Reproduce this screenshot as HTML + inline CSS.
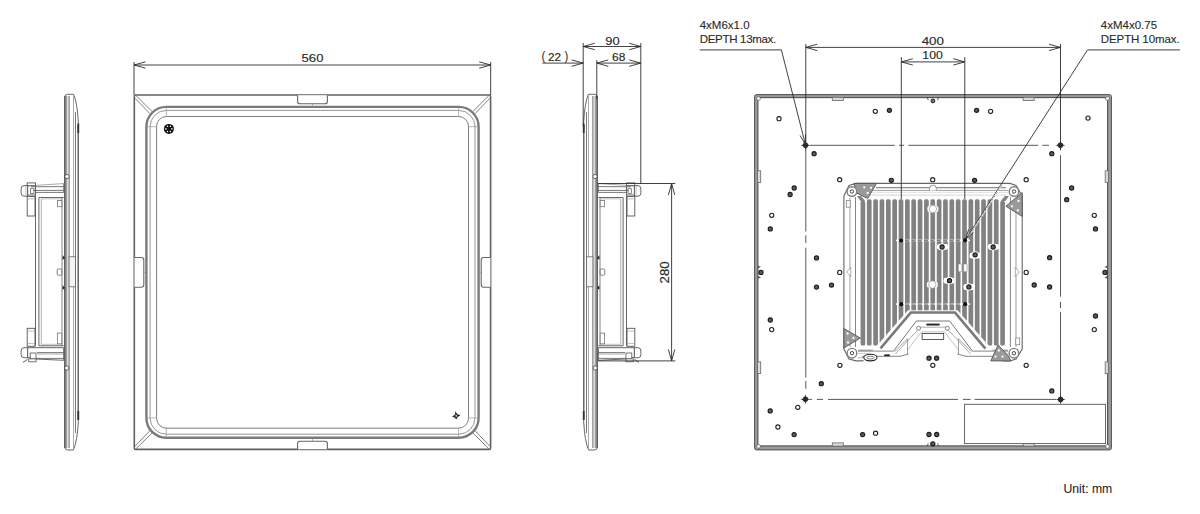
<!DOCTYPE html>
<html><head><meta charset="utf-8"><style>
html,body{margin:0;padding:0;background:#fff;}
body{width:1200px;height:514px;overflow:hidden;}
svg{display:block;font-family:"Liberation Sans",sans-serif;}
</style></head><body>
<svg width="1200" height="514" viewBox="0 0 1200 514">
<rect x="134.3" y="95.0" width="356.30" height="354.40" rx="1.5" fill="none" stroke="#606060" stroke-width="1.6"/>
<rect x="146.40" y="106.90" width="332.20" height="330.90" rx="19.9" ry="19.9" fill="none" stroke="#7a7a7a" stroke-width="2.4"/>
<rect x="150.10" y="110.40" width="324.90" height="323.80" rx="16.3" ry="16.3" fill="none" stroke="#8a8a8a" stroke-width="0.9"/>
<rect x="156.60" y="116.50" width="311.90" height="311.70" rx="9.9" ry="9.9" fill="none" stroke="#707070" stroke-width="0.9"/>
<line x1="166.30" y1="106.00" x2="166.30" y2="117.00" stroke="#888" stroke-width="0.6" />
<line x1="458.60" y1="106.00" x2="458.60" y2="117.00" stroke="#888" stroke-width="0.6" />
<line x1="166.30" y1="427.50" x2="166.30" y2="438.50" stroke="#888" stroke-width="0.6" />
<line x1="458.60" y1="427.50" x2="458.60" y2="438.50" stroke="#888" stroke-width="0.6" />
<line x1="146.00" y1="126.70" x2="157.00" y2="126.70" stroke="#888" stroke-width="0.6" />
<line x1="146.00" y1="417.90" x2="157.00" y2="417.90" stroke="#888" stroke-width="0.6" />
<line x1="468.00" y1="126.70" x2="479.00" y2="126.70" stroke="#888" stroke-width="0.6" />
<line x1="468.00" y1="417.90" x2="479.00" y2="417.90" stroke="#888" stroke-width="0.6" />
<line x1="136.10" y1="95.70" x2="152.60" y2="112.00" stroke="#6a6a6a" stroke-width="0.85" />
<line x1="135.00" y1="98.20" x2="149.90" y2="113.60" stroke="#6a6a6a" stroke-width="0.85" />
<line x1="488.80" y1="95.70" x2="472.30" y2="112.00" stroke="#6a6a6a" stroke-width="0.85" />
<line x1="489.90" y1="98.20" x2="475.00" y2="113.60" stroke="#6a6a6a" stroke-width="0.85" />
<line x1="136.10" y1="448.70" x2="152.60" y2="432.40" stroke="#6a6a6a" stroke-width="0.85" />
<line x1="135.00" y1="446.20" x2="149.90" y2="430.80" stroke="#6a6a6a" stroke-width="0.85" />
<line x1="488.80" y1="448.70" x2="472.30" y2="432.40" stroke="#6a6a6a" stroke-width="0.85" />
<line x1="489.90" y1="446.20" x2="475.00" y2="430.80" stroke="#6a6a6a" stroke-width="0.85" />
<path d="M297.6,95.2 V101.5 Q297.6,103.8 300,103.8 H325 Q327.4,103.8 327.4,101.5 V95.2" fill="#fff" stroke="#666" stroke-width="1.1"/>
<path d="M297.6,449.2 V443.6 Q297.6,441.3 300,441.3 H325 Q327.4,441.3 327.4,443.6 V449.2" fill="#fff" stroke="#666" stroke-width="1.1"/>
<path d="M134.5,257.5 H141.4 Q143.8,257.5 143.8,259.9 V284.8 Q143.8,287.2 141.4,287.2 H134.5" fill="#fff" stroke="#666" stroke-width="1.1"/>
<path d="M490.4,257.5 H483.5 Q481.2,257.5 481.2,259.9 V284.8 Q481.2,287.2 483.5,287.2 H490.4" fill="#fff" stroke="#666" stroke-width="1.1"/>
<line x1="312.50" y1="103.80" x2="312.50" y2="107.00" stroke="#888" stroke-width="0.6" />
<line x1="312.50" y1="438.00" x2="312.50" y2="441.30" stroke="#888" stroke-width="0.6" />
<line x1="143.80" y1="272.30" x2="146.50" y2="272.30" stroke="#888" stroke-width="0.6" />
<line x1="478.50" y1="272.30" x2="481.20" y2="272.30" stroke="#888" stroke-width="0.6" />
<circle cx="168.9" cy="128.9" r="5.0" fill="#111"/>
<circle cx="171.90" cy="128.90" r="0.8" fill="#fff"/>
<circle cx="170.40" cy="131.50" r="0.8" fill="#fff"/>
<circle cx="167.40" cy="131.50" r="0.8" fill="#fff"/>
<circle cx="165.90" cy="128.90" r="0.8" fill="#fff"/>
<circle cx="167.40" cy="126.30" r="0.8" fill="#fff"/>
<circle cx="170.40" cy="126.30" r="0.8" fill="#fff"/>
<polygon points="455.4,411.6 457.3,414.6 460.2,415.2 457.2,417.1 456.4,419.2 454.6,417.2 452.4,416.5 455.2,414.8" fill="#222" stroke="#222" stroke-width="0.4"/>
<circle cx="456.2" cy="415.9" r="0.8" fill="#fff"/>
<g><path d="M64.8,97 Q64.8,94.3 67.5,94.3 L73.6,94.3 Q77.3,103 78.3,122 L78.3,422 Q77.3,441 73.4,450 L67.5,450 Q64.8,450 64.8,447 Z" fill="#fff" stroke="#666" stroke-width="1.0"/><rect x="64.8" y="96" width="2.6" height="352" fill="#a0a0a0"/><line x1="64.80" y1="96.00" x2="64.80" y2="448.00" stroke="#555" stroke-width="1.2"/><line x1="69.10" y1="96.00" x2="69.10" y2="448.00" stroke="#555" stroke-width="0.9"/><line x1="73.50" y1="95.00" x2="73.50" y2="449.00" stroke="#aaa" stroke-width="1.0"/><line x1="75.50" y1="112.00" x2="75.50" y2="433.00" stroke="#555" stroke-width="0.8"/><line x1="78.10" y1="125.00" x2="78.10" y2="419.00" stroke="#555" stroke-width="0.9"/><line x1="78.30" y1="123.50" x2="78.30" y2="133.00" stroke="#333" stroke-width="1.8"/><line x1="78.30" y1="411.00" x2="78.30" y2="420.00" stroke="#333" stroke-width="1.8"/><rect x="69.10" y="256.80" width="6.30" height="30.00" rx="0" fill="#f4f4f4" stroke="#666" stroke-width="0.8"/><polygon points="62.5,255 65,258 62.5,260" fill="#222"/><polygon points="62.5,285 65,288 62.5,290" fill="#222"/><rect x="57.20" y="269.00" width="4.80" height="6.20" rx="1" fill="#fff" stroke="#666" stroke-width="0.8"/><circle cx="67" cy="176.5" r="2.1" fill="#fff" stroke="#555" stroke-width="0.9"/><circle cx="66.8" cy="368" r="2.1" fill="#fff" stroke="#555" stroke-width="0.9"/><line x1="35.50" y1="196.50" x2="35.50" y2="345.80" stroke="#555" stroke-width="0.9"/><line x1="38.90" y1="197.50" x2="38.90" y2="345.80" stroke="#555" stroke-width="0.9"/><line x1="41.30" y1="199.00" x2="41.30" y2="344.50" stroke="#aaa" stroke-width="0.9"/><line x1="62.00" y1="197.50" x2="62.00" y2="345.80" stroke="#777" stroke-width="0.9"/><line x1="38.90" y1="197.50" x2="63.70" y2="197.50" stroke="#555" stroke-width="0.9"/><line x1="41.30" y1="198.90" x2="62.00" y2="198.90" stroke="#aaa" stroke-width="0.7"/><line x1="38.90" y1="345.80" x2="63.70" y2="345.80" stroke="#555" stroke-width="0.9"/><line x1="41.30" y1="344.30" x2="62.00" y2="344.30" stroke="#aaa" stroke-width="0.7"/><rect x="57.40" y="200.40" width="4.40" height="6.30" rx="0" fill="#fff" stroke="#777" stroke-width="0.8"/><rect x="57.40" y="333.10" width="4.40" height="10.70" rx="0" fill="#fff" stroke="#777" stroke-width="0.8"/><path d="M27.7,185.6 L24.0,185.6 Q21.1,185.6 21.1,189 L21.1,192.8 Q21.1,196.2 24.0,196.2 L27.7,196.2 Z" fill="#fff" stroke="#555" stroke-width="0.9"/><line x1="25.90" y1="185.80" x2="25.90" y2="196.00" stroke="#999" stroke-width="0.6"/><rect x="27.20" y="182.90" width="8.30" height="2.90" rx="0" fill="#fff" stroke="#555" stroke-width="0.9"/><rect x="27.70" y="185.80" width="7.80" height="9.20" rx="0" fill="#fff" stroke="#555" stroke-width="0.9"/><rect x="30.60" y="188.70" width="3.40" height="4.90" rx="0" fill="#fff" stroke="#555" stroke-width="0.7"/><line x1="35.50" y1="185.40" x2="63.70" y2="183.60" stroke="#888" stroke-width="0.7"/><line x1="31.00" y1="186.80" x2="63.70" y2="186.60" stroke="#555" stroke-width="0.8"/><line x1="33.00" y1="190.40" x2="63.70" y2="190.40" stroke="#555" stroke-width="0.8"/><line x1="35.50" y1="192.40" x2="63.70" y2="192.40" stroke="#555" stroke-width="0.8"/><line x1="63.70" y1="183.40" x2="63.70" y2="192.50" stroke="#555" stroke-width="0.8"/><rect x="27.20" y="196.50" width="7.80" height="19.50" rx="0" fill="#fff" stroke="#555" stroke-width="0.9"/><line x1="27.20" y1="198.90" x2="35.00" y2="198.90" stroke="#999" stroke-width="0.6"/><line x1="35.50" y1="194.00" x2="35.50" y2="196.50" stroke="#555" stroke-width="0.7"/><rect x="27.20" y="328.30" width="7.80" height="18.00" rx="0" fill="#fff" stroke="#555" stroke-width="0.9"/><line x1="27.20" y1="331.00" x2="35.00" y2="331.00" stroke="#999" stroke-width="0.6"/><line x1="27.20" y1="343.50" x2="35.00" y2="343.50" stroke="#999" stroke-width="0.6"/><path d="M27.7,347.7 L24.0,347.7 Q21.1,347.7 21.1,351 L21.1,354.5 Q21.1,357.8 24.0,357.8 L27.7,357.8 Z" fill="#fff" stroke="#555" stroke-width="0.9"/><path d="M27.7,347.7 L63.7,347.7 L63.7,360.3 L36,359 L36,357.5 L27.7,357.5 Z" fill="#fff" stroke="#555" stroke-width="0.9"/><line x1="37.00" y1="352.60" x2="63.70" y2="352.60" stroke="#555" stroke-width="0.8"/><line x1="37.00" y1="354.00" x2="63.70" y2="354.00" stroke="#777" stroke-width="0.6"/><line x1="37.00" y1="358.40" x2="63.70" y2="358.40" stroke="#555" stroke-width="0.8"/><rect x="30.20" y="353.00" width="5.80" height="5.90" rx="0" fill="#fff" stroke="#555" stroke-width="0.8"/><rect x="28.70" y="358.90" width="7.30" height="2.90" rx="0" fill="#fff" stroke="#555" stroke-width="0.8"/><line x1="23.00" y1="362.30" x2="27.50" y2="359.50" stroke="#333" stroke-width="0.8"/></g>
<g transform="translate(662,0) scale(-1,1)"><path d="M64.8,97 Q64.8,94.3 67.5,94.3 L73.6,94.3 Q77.3,103 78.3,122 L78.3,422 Q77.3,441 73.4,450 L67.5,450 Q64.8,450 64.8,447 Z" fill="#fff" stroke="#666" stroke-width="1.0"/><rect x="64.8" y="96" width="2.6" height="352" fill="#a0a0a0"/><line x1="64.80" y1="96.00" x2="64.80" y2="448.00" stroke="#555" stroke-width="1.2"/><line x1="69.10" y1="96.00" x2="69.10" y2="448.00" stroke="#555" stroke-width="0.9"/><line x1="73.50" y1="95.00" x2="73.50" y2="449.00" stroke="#aaa" stroke-width="1.0"/><line x1="75.50" y1="112.00" x2="75.50" y2="433.00" stroke="#555" stroke-width="0.8"/><line x1="78.10" y1="125.00" x2="78.10" y2="419.00" stroke="#555" stroke-width="0.9"/><line x1="78.30" y1="123.50" x2="78.30" y2="133.00" stroke="#333" stroke-width="1.8"/><line x1="78.30" y1="411.00" x2="78.30" y2="420.00" stroke="#333" stroke-width="1.8"/><rect x="69.10" y="256.80" width="6.30" height="30.00" rx="0" fill="#f4f4f4" stroke="#666" stroke-width="0.8"/><polygon points="62.5,255 65,258 62.5,260" fill="#222"/><polygon points="62.5,285 65,288 62.5,290" fill="#222"/><rect x="57.20" y="269.00" width="4.80" height="6.20" rx="1" fill="#fff" stroke="#666" stroke-width="0.8"/><circle cx="67" cy="176.5" r="2.1" fill="#fff" stroke="#555" stroke-width="0.9"/><circle cx="66.8" cy="368" r="2.1" fill="#fff" stroke="#555" stroke-width="0.9"/><line x1="35.50" y1="196.50" x2="35.50" y2="345.80" stroke="#555" stroke-width="0.9"/><line x1="38.90" y1="197.50" x2="38.90" y2="345.80" stroke="#555" stroke-width="0.9"/><line x1="41.30" y1="199.00" x2="41.30" y2="344.50" stroke="#aaa" stroke-width="0.9"/><line x1="62.00" y1="197.50" x2="62.00" y2="345.80" stroke="#777" stroke-width="0.9"/><line x1="38.90" y1="197.50" x2="63.70" y2="197.50" stroke="#555" stroke-width="0.9"/><line x1="41.30" y1="198.90" x2="62.00" y2="198.90" stroke="#aaa" stroke-width="0.7"/><line x1="38.90" y1="345.80" x2="63.70" y2="345.80" stroke="#555" stroke-width="0.9"/><line x1="41.30" y1="344.30" x2="62.00" y2="344.30" stroke="#aaa" stroke-width="0.7"/><rect x="57.40" y="200.40" width="4.40" height="6.30" rx="0" fill="#fff" stroke="#777" stroke-width="0.8"/><rect x="57.40" y="333.10" width="4.40" height="10.70" rx="0" fill="#fff" stroke="#777" stroke-width="0.8"/><path d="M27.7,185.6 L24.0,185.6 Q21.1,185.6 21.1,189 L21.1,192.8 Q21.1,196.2 24.0,196.2 L27.7,196.2 Z" fill="#fff" stroke="#555" stroke-width="0.9"/><line x1="25.90" y1="185.80" x2="25.90" y2="196.00" stroke="#999" stroke-width="0.6"/><rect x="27.20" y="182.90" width="8.30" height="2.90" rx="0" fill="#fff" stroke="#555" stroke-width="0.9"/><rect x="27.70" y="185.80" width="7.80" height="9.20" rx="0" fill="#fff" stroke="#555" stroke-width="0.9"/><rect x="30.60" y="188.70" width="3.40" height="4.90" rx="0" fill="#fff" stroke="#555" stroke-width="0.7"/><line x1="35.50" y1="185.40" x2="63.70" y2="183.60" stroke="#888" stroke-width="0.7"/><line x1="31.00" y1="186.80" x2="63.70" y2="186.60" stroke="#555" stroke-width="0.8"/><line x1="33.00" y1="190.40" x2="63.70" y2="190.40" stroke="#555" stroke-width="0.8"/><line x1="35.50" y1="192.40" x2="63.70" y2="192.40" stroke="#555" stroke-width="0.8"/><line x1="63.70" y1="183.40" x2="63.70" y2="192.50" stroke="#555" stroke-width="0.8"/><rect x="27.20" y="196.50" width="7.80" height="19.50" rx="0" fill="#fff" stroke="#555" stroke-width="0.9"/><line x1="27.20" y1="198.90" x2="35.00" y2="198.90" stroke="#999" stroke-width="0.6"/><line x1="35.50" y1="194.00" x2="35.50" y2="196.50" stroke="#555" stroke-width="0.7"/><rect x="27.20" y="328.30" width="7.80" height="18.00" rx="0" fill="#fff" stroke="#555" stroke-width="0.9"/><line x1="27.20" y1="331.00" x2="35.00" y2="331.00" stroke="#999" stroke-width="0.6"/><line x1="27.20" y1="343.50" x2="35.00" y2="343.50" stroke="#999" stroke-width="0.6"/><path d="M27.7,347.7 L24.0,347.7 Q21.1,347.7 21.1,351 L21.1,354.5 Q21.1,357.8 24.0,357.8 L27.7,357.8 Z" fill="#fff" stroke="#555" stroke-width="0.9"/><path d="M27.7,347.7 L63.7,347.7 L63.7,360.3 L36,359 L36,357.5 L27.7,357.5 Z" fill="#fff" stroke="#555" stroke-width="0.9"/><line x1="37.00" y1="352.60" x2="63.70" y2="352.60" stroke="#555" stroke-width="0.8"/><line x1="37.00" y1="354.00" x2="63.70" y2="354.00" stroke="#777" stroke-width="0.6"/><line x1="37.00" y1="358.40" x2="63.70" y2="358.40" stroke="#555" stroke-width="0.8"/><rect x="30.20" y="353.00" width="5.80" height="5.90" rx="0" fill="#fff" stroke="#555" stroke-width="0.8"/><rect x="28.70" y="358.90" width="7.30" height="2.90" rx="0" fill="#fff" stroke="#555" stroke-width="0.8"/><line x1="23.00" y1="362.30" x2="27.50" y2="359.50" stroke="#333" stroke-width="0.8"/></g>
<rect x="754.6" y="94.6" width="356.80" height="355.30" rx="2" fill="#9c9c9c" stroke="#505050" stroke-width="1.0"/>
<rect x="757.9" y="97.6" width="349.70" height="348.30" fill="#fff" stroke="#505050" stroke-width="1.1"/>
<circle cx="758.5" cy="98.5" r="1.9" fill="#fff" stroke="#555" stroke-width="0.7"/>
<circle cx="1107.5" cy="98.5" r="1.9" fill="#fff" stroke="#555" stroke-width="0.7"/>
<circle cx="758.5" cy="446.4" r="1.9" fill="#fff" stroke="#555" stroke-width="0.7"/>
<circle cx="1107.5" cy="446.4" r="1.9" fill="#fff" stroke="#555" stroke-width="0.7"/>
<rect x="832.3" y="97.3" width="11" height="3.2" fill="#ddd" stroke="#666" stroke-width="0.8"/>
<rect x="832.3" y="442.9" width="11" height="3.2" fill="#ddd" stroke="#666" stroke-width="0.8"/>
<rect x="1023.2" y="97.3" width="11" height="3.2" fill="#ddd" stroke="#666" stroke-width="0.8"/>
<rect x="1023.2" y="442.9" width="11" height="3.2" fill="#ddd" stroke="#666" stroke-width="0.8"/>
<rect x="757.6" y="170.8" width="3.1" height="11.7" fill="#ddd" stroke="#666" stroke-width="0.8"/>
<rect x="1105.2" y="170.8" width="3.1" height="11.7" fill="#ddd" stroke="#666" stroke-width="0.8"/>
<rect x="757.6" y="361.9" width="3.1" height="11.7" fill="#ddd" stroke="#666" stroke-width="0.8"/>
<rect x="1105.2" y="361.9" width="3.1" height="11.7" fill="#ddd" stroke="#666" stroke-width="0.8"/>
<path d="M856,183.4 H1010 L1016,185.5 L1022.2,196 V349 L1016,359 L1010,360.9 H856 L849,359 L843.9,349 V196 L849,185.5 Z" fill="#fff" stroke="#666" stroke-width="1.1"/>
<line x1="876.00" y1="187.70" x2="1006.00" y2="187.70" stroke="#8c8c8c" stroke-width="1.3" />
<line x1="866.00" y1="190.40" x2="1008.00" y2="190.40" stroke="#999" stroke-width="0.9" />
<line x1="866.00" y1="192.30" x2="1008.00" y2="192.30" stroke="#c8c8c8" stroke-width="0.6" />
<line x1="860.00" y1="195.10" x2="1006.00" y2="195.10" stroke="#c4c4c4" stroke-width="0.7" />
<path d="M929.5,190.5 V188.6 Q929.5,185.2 932.9,185.2 Q936.3,185.2 936.3,188.6 V190.5" fill="#fff" stroke="#888" stroke-width="0.9"/>
<line x1="849.90" y1="198.00" x2="849.90" y2="347.00" stroke="#c4c4c4" stroke-width="1.6" />
<line x1="855.50" y1="197.00" x2="855.50" y2="347.00" stroke="#666" stroke-width="0.8" />
<line x1="1016.00" y1="198.00" x2="1016.00" y2="347.00" stroke="#c4c4c4" stroke-width="1.6" />
<line x1="1010.40" y1="197.00" x2="1010.40" y2="347.00" stroke="#666" stroke-width="0.8" />
<line x1="858.00" y1="350.20" x2="1008.00" y2="350.20" stroke="#777" stroke-width="0.8" />
<line x1="858.00" y1="353.40" x2="1008.00" y2="353.40" stroke="#aaa" stroke-width="0.6" />
<line x1="858.00" y1="357.80" x2="1008.00" y2="357.80" stroke="#888" stroke-width="0.7" />
<rect x="846.3" y="200.4" width="3.9" height="6.8" fill="#fff" stroke="#777" stroke-width="0.7"/>
<rect x="1015.8" y="338" width="3.9" height="6.8" fill="#fff" stroke="#777" stroke-width="0.7"/>
<polygon points="850.8,267.3 846.7,272 850.8,276.7" fill="#fff" stroke="#888" stroke-width="0.7"/>
<polygon points="1015.2,267.3 1019.3,272 1015.2,276.7" fill="#fff" stroke="#888" stroke-width="0.7"/>
<rect x="860.55" y="201" width="4.7" height="144.6" rx="1.6" fill="#828282"/><rect x="866.90" y="199.3" width="4.7" height="146.3" rx="1.6" fill="#828282"/><rect x="873.25" y="199.3" width="4.7" height="146.3" rx="1.6" fill="#828282"/><rect x="879.60" y="199.3" width="4.7" height="146.3" rx="1.6" fill="#828282"/><rect x="885.95" y="199.3" width="4.7" height="146.3" rx="1.6" fill="#828282"/><rect x="892.30" y="199.3" width="4.7" height="146.3" rx="1.6" fill="#828282"/><rect x="898.65" y="199.3" width="4.7" height="146.3" rx="1.6" fill="#828282"/><rect x="905.00" y="199.3" width="4.7" height="146.3" rx="1.6" fill="#828282"/><rect x="911.35" y="199.3" width="4.7" height="146.3" rx="1.6" fill="#828282"/><rect x="917.70" y="199.3" width="4.7" height="146.3" rx="1.6" fill="#828282"/><rect x="924.05" y="199.3" width="4.7" height="146.3" rx="1.6" fill="#828282"/><rect x="930.40" y="199.3" width="4.7" height="146.3" rx="1.6" fill="#828282"/><rect x="936.75" y="199.3" width="4.7" height="146.3" rx="1.6" fill="#828282"/><rect x="943.10" y="199.3" width="4.7" height="146.3" rx="1.6" fill="#828282"/><rect x="949.45" y="199.3" width="4.7" height="146.3" rx="1.6" fill="#828282"/><rect x="955.80" y="199.3" width="4.7" height="146.3" rx="1.6" fill="#828282"/><rect x="962.15" y="199.3" width="4.7" height="146.3" rx="1.6" fill="#828282"/><rect x="968.50" y="199.3" width="4.7" height="146.3" rx="1.6" fill="#828282"/><rect x="974.85" y="199.3" width="4.7" height="146.3" rx="1.6" fill="#828282"/><rect x="981.20" y="199.3" width="4.7" height="146.3" rx="1.6" fill="#828282"/><rect x="987.55" y="199.3" width="4.7" height="146.3" rx="1.6" fill="#828282"/><rect x="993.90" y="199.3" width="4.7" height="146.3" rx="1.6" fill="#828282"/><rect x="1000.25" y="201" width="4.7" height="144.6" rx="1.6" fill="#828282"/>
<polygon points="857,196 861,196 865.2,201 860.5,201" fill="#828282"/>
<polygon points="1009,196 1005,196 1000.7,201 1005.4,201" fill="#828282"/>
<rect x="896" y="239.6" width="74" height="1.6" fill="#fff"/>
<line x1="905" y1="240.4" x2="961" y2="240.4" stroke="#333" stroke-width="0.7" stroke-dasharray="4 2.35"/>
<rect x="896" y="303.3" width="74" height="1.6" fill="#fff"/>
<line x1="905" y1="304.1" x2="961" y2="304.1" stroke="#333" stroke-width="0.7" stroke-dasharray="4 2.35"/>
<rect x="937.00" y="243.90" width="11.2" height="5.8" rx="2.2" fill="#fff"/>
<rect x="969.50" y="252.80" width="11.2" height="5.8" rx="2.2" fill="#fff"/>
<rect x="987.90" y="243.90" width="11.2" height="5.8" rx="2.2" fill="#fff"/>
<rect x="943.50" y="277.80" width="11.2" height="5.8" rx="2.2" fill="#fff"/>
<rect x="963.40" y="284.10" width="11.2" height="5.8" rx="2.2" fill="#fff"/>
<rect x="958.3" y="263.9" width="3.6" height="7.8" rx="1" fill="#fff" stroke="#888" stroke-width="0.6"/>
<rect x="963.6" y="263.9" width="3.6" height="7.8" rx="1" fill="#fff" stroke="#888" stroke-width="0.6"/>
<polygon points="908,310.3 957.6,310.3 1003,362 862.5,362" fill="#fff"/>
<polyline points="880.5,348.4 910.8,312.6 955,312.6 985.4,348.6" fill="none" stroke="#7a7a7a" stroke-width="2.5"/>
<polyline points="893.5,351.1 916.3,321 949.6,321 972.5,351.1" fill="none" stroke="#555" stroke-width="0.8"/>
<polyline points="895.3,354 920.3,327.2 945.6,327.2 970.7,354" fill="none" stroke="#888" stroke-width="0.7"/>
<polyline points="907.5,350 921.5,331.8 944.4,331.8 958.5,350" fill="none" stroke="#999" stroke-width="0.6"/>
<polyline points="894.7,351.7 907.5,338.8 907.5,354" fill="none" stroke="#777" stroke-width="0.7"/>
<polyline points="971.3,351.7 958.5,338.8 958.5,354" fill="none" stroke="#777" stroke-width="0.7"/>
<path d="M858,351.1 H893.5 M862,356.3 H900 L908.7,354 M1008,351.1 H972.5 M1004,356.3 H966 L957.3,354" fill="none" stroke="#666" stroke-width="0.8"/>
<rect x="926.4" y="323.6" width="13.2" height="1.9" fill="#222"/>
<rect x="922.1" y="333.4" width="21.6" height="6.1" fill="#fff" stroke="#333" stroke-width="0.8"/>
<circle cx="918.6" cy="328.3" r="2.0" fill="#fff" stroke="#777" stroke-width="0.9"/>
<circle cx="947.4" cy="328.3" r="2.0" fill="#fff" stroke="#777" stroke-width="0.9"/>
<ellipse cx="870.4" cy="357.6" rx="6.6" ry="3.3" fill="#fff" stroke="#222" stroke-width="1.1"/>
<ellipse cx="870.4" cy="357.6" rx="3.6" ry="1.4" fill="none" stroke="#444" stroke-width="0.7"/>
<rect x="884.3" y="354.4" width="5.5" height="1.8" fill="#222"/>
<polygon points="853.8,183.4 876.5,183.4 867.7,198.5 857,193.2" fill="#9a9a9a" stroke="#555" stroke-width="0.9"/>
<circle cx="864.3" cy="187.3" r="1.15" fill="#fff"/>
<circle cx="871" cy="187.8" r="1.15" fill="#fff"/>
<circle cx="867.7" cy="193" r="1.15" fill="#fff"/>
<polygon points="1022.2,192.6 1005.9,206.2 1022.2,216.4" fill="#9a9a9a" stroke="#555" stroke-width="0.9"/>
<circle cx="1018.5" cy="201" r="1.15" fill="#fff"/>
<circle cx="1017.8" cy="210.5" r="1.15" fill="#fff"/>
<circle cx="1012" cy="206.3" r="1.15" fill="#fff"/>
<polygon points="843.9,328.5 860.3,338 843.9,348" fill="#9a9a9a" stroke="#555" stroke-width="0.9"/>
<circle cx="847.6" cy="333.5" r="1.15" fill="#fff"/>
<circle cx="848" cy="342.5" r="1.15" fill="#fff"/>
<circle cx="853.5" cy="338" r="1.15" fill="#fff"/>
<polygon points="990.8,360.9 998.1,344.9 1008,355.5 1011,360.9" fill="#9a9a9a" stroke="#555" stroke-width="0.9"/>
<circle cx="995.5" cy="356.6" r="1.15" fill="#fff"/>
<circle cx="1002.5" cy="356.6" r="1.15" fill="#fff"/>
<circle cx="998.8" cy="350.5" r="1.15" fill="#fff"/>
<circle cx="851.9" cy="191.5" r="4.8" fill="#fff" stroke="#808080" stroke-width="1.4"/>
<circle cx="851.9" cy="191.5" r="1.7" fill="#fff" stroke="#333" stroke-width="0.9"/>
<circle cx="1014.0" cy="191.5" r="4.8" fill="#fff" stroke="#808080" stroke-width="1.4"/>
<circle cx="1014.0" cy="191.5" r="1.7" fill="#fff" stroke="#333" stroke-width="0.9"/>
<circle cx="852.0" cy="353.2" r="4.8" fill="#fff" stroke="#808080" stroke-width="1.4"/>
<circle cx="852.0" cy="353.2" r="1.7" fill="#fff" stroke="#333" stroke-width="0.9"/>
<circle cx="1013.9" cy="353.2" r="4.8" fill="#fff" stroke="#808080" stroke-width="1.4"/>
<circle cx="1013.9" cy="353.2" r="1.7" fill="#fff" stroke="#333" stroke-width="0.9"/>
<circle cx="942.1" cy="247" r="3.6" fill="#fff"/>
<circle cx="975.1" cy="254.8" r="3.6" fill="#fff"/>
<circle cx="993.2" cy="247" r="3.6" fill="#fff"/>
<circle cx="949.5" cy="280.7" r="3.6" fill="#fff"/>
<circle cx="968.9" cy="286.9" r="3.6" fill="#fff"/>
<rect x="927.4" y="205.8" width="11" height="6.4" rx="2.5" fill="#fff"/>
<circle cx="932.9" cy="209" r="3.7" fill="#fff" stroke="#999" stroke-width="0.7"/>
<rect x="926.8" y="281.40000000000003" width="11" height="6.4" rx="2.5" fill="#fff"/>
<circle cx="932.3" cy="284.6" r="3.7" fill="#fff" stroke="#999" stroke-width="0.7"/>
<circle cx="932.9" cy="100.9" r="1.9" fill="#777" stroke="#1a1a1a" stroke-width="1.0"/>
<path d="M927.3,97.6 L928.3,100.2 M938.5,97.6 L937.5,100.2" stroke="#333" stroke-width="0.8"/>
<path d="M927.3,445.9 L928.3,443.3 M938.5,445.9 L937.5,443.3" stroke="#333" stroke-width="0.8"/>
<polygon points="757.9,265.4 760.9,267.0 757.9,268.3" fill="#555"/>
<polygon points="1107.5,265.4 1104.5,267.0 1107.5,268.3" fill="#555"/>
<polygon points="757.9,275.79999999999995 760.9,277.4 757.9,278.7" fill="#555"/>
<polygon points="1107.5,275.79999999999995 1104.5,277.4 1107.5,278.7" fill="#555"/>
<circle cx="889.4" cy="110.3" r="2.1" fill="#5a5a5a" stroke="#1a1a1a" stroke-width="1.1"/>
<circle cx="976.6" cy="110.3" r="2.1" fill="#5a5a5a" stroke="#1a1a1a" stroke-width="1.1"/>
<circle cx="814.1" cy="153.7" r="2.1" fill="#5a5a5a" stroke="#1a1a1a" stroke-width="1.1"/>
<circle cx="1051.8" cy="153.7" r="2.1" fill="#5a5a5a" stroke="#1a1a1a" stroke-width="1.1"/>
<circle cx="891.3" cy="180.3" r="2.1" fill="#5a5a5a" stroke="#1a1a1a" stroke-width="1.1"/>
<circle cx="974.6" cy="180.3" r="2.1" fill="#5a5a5a" stroke="#1a1a1a" stroke-width="1.1"/>
<circle cx="794.2" cy="188" r="2.1" fill="#5a5a5a" stroke="#1a1a1a" stroke-width="1.1"/>
<circle cx="790.1" cy="194.5" r="2.1" fill="#5a5a5a" stroke="#1a1a1a" stroke-width="1.1"/>
<circle cx="1071.6" cy="188" r="2.1" fill="#5a5a5a" stroke="#1a1a1a" stroke-width="1.1"/>
<circle cx="1066.7" cy="199.7" r="2.1" fill="#5a5a5a" stroke="#1a1a1a" stroke-width="1.1"/>
<circle cx="770.3" cy="228.9" r="2.1" fill="#5a5a5a" stroke="#1a1a1a" stroke-width="1.1"/>
<circle cx="1095.5" cy="228.9" r="2.1" fill="#5a5a5a" stroke="#1a1a1a" stroke-width="1.1"/>
<circle cx="816.5" cy="257.9" r="2.1" fill="#5a5a5a" stroke="#1a1a1a" stroke-width="1.1"/>
<circle cx="1049.6" cy="257.7" r="2.1" fill="#5a5a5a" stroke="#1a1a1a" stroke-width="1.1"/>
<circle cx="761" cy="272.4" r="2.1" fill="#5a5a5a" stroke="#1a1a1a" stroke-width="1.1"/>
<circle cx="1105" cy="272.4" r="2.1" fill="#5a5a5a" stroke="#1a1a1a" stroke-width="1.1"/>
<circle cx="816.5" cy="287.1" r="2.1" fill="#5a5a5a" stroke="#1a1a1a" stroke-width="1.1"/>
<circle cx="831.5" cy="285.1" r="2.1" fill="#5a5a5a" stroke="#1a1a1a" stroke-width="1.1"/>
<circle cx="1034.2" cy="285" r="2.1" fill="#5a5a5a" stroke="#1a1a1a" stroke-width="1.1"/>
<circle cx="1049.6" cy="287" r="2.1" fill="#5a5a5a" stroke="#1a1a1a" stroke-width="1.1"/>
<circle cx="770.3" cy="320" r="2.1" fill="#5a5a5a" stroke="#1a1a1a" stroke-width="1.1"/>
<circle cx="1095.5" cy="316" r="2.1" fill="#5a5a5a" stroke="#1a1a1a" stroke-width="1.1"/>
<circle cx="821.3" cy="383.7" r="2.1" fill="#5a5a5a" stroke="#1a1a1a" stroke-width="1.1"/>
<circle cx="1051.8" cy="390.9" r="2.1" fill="#5a5a5a" stroke="#1a1a1a" stroke-width="1.1"/>
<circle cx="770.2" cy="410.9" r="2.1" fill="#5a5a5a" stroke="#1a1a1a" stroke-width="1.1"/>
<circle cx="794.1" cy="434.6" r="2.1" fill="#5a5a5a" stroke="#1a1a1a" stroke-width="1.1"/>
<circle cx="862.6" cy="434.6" r="2.1" fill="#5a5a5a" stroke="#1a1a1a" stroke-width="1.1"/>
<circle cx="929" cy="434.5" r="2.1" fill="#5a5a5a" stroke="#1a1a1a" stroke-width="1.1"/>
<circle cx="936.7" cy="434.5" r="2.1" fill="#5a5a5a" stroke="#1a1a1a" stroke-width="1.1"/>
<circle cx="932.8" cy="443.8" r="2.1" fill="#5a5a5a" stroke="#1a1a1a" stroke-width="1.1"/>
<circle cx="929" cy="358.2" r="2.1" fill="#5a5a5a" stroke="#1a1a1a" stroke-width="1.1"/>
<circle cx="936.6" cy="358.2" r="2.1" fill="#5a5a5a" stroke="#1a1a1a" stroke-width="1.1"/>
<circle cx="942.1" cy="247" r="2.1" fill="#5a5a5a" stroke="#1a1a1a" stroke-width="1.1"/>
<circle cx="975.1" cy="254.8" r="2.1" fill="#5a5a5a" stroke="#1a1a1a" stroke-width="1.1"/>
<circle cx="993.2" cy="247" r="2.1" fill="#5a5a5a" stroke="#1a1a1a" stroke-width="1.1"/>
<circle cx="949.5" cy="280.7" r="2.1" fill="#5a5a5a" stroke="#1a1a1a" stroke-width="1.1"/>
<circle cx="968.9" cy="286.9" r="2.1" fill="#5a5a5a" stroke="#1a1a1a" stroke-width="1.1"/>
<circle cx="779" cy="118.7" r="2.1" fill="#fff" stroke="#222" stroke-width="1.1"/>
<circle cx="875.3" cy="111.3" r="2.1" fill="#fff" stroke="#222" stroke-width="1.1"/>
<circle cx="990.6" cy="111.3" r="2.1" fill="#fff" stroke="#222" stroke-width="1.1"/>
<circle cx="1088" cy="118.1" r="2.1" fill="#fff" stroke="#222" stroke-width="1.1"/>
<circle cx="839.7" cy="179.7" r="2.1" fill="#fff" stroke="#222" stroke-width="1.1"/>
<circle cx="932.7" cy="179.7" r="2.1" fill="#fff" stroke="#222" stroke-width="1.1"/>
<circle cx="1026.2" cy="179.7" r="2.1" fill="#fff" stroke="#222" stroke-width="1.1"/>
<circle cx="771.7" cy="215.3" r="2.1" fill="#fff" stroke="#222" stroke-width="1.1"/>
<circle cx="1094.3" cy="215.3" r="2.1" fill="#fff" stroke="#222" stroke-width="1.1"/>
<circle cx="839.7" cy="272.4" r="2.1" fill="#fff" stroke="#222" stroke-width="1.1"/>
<circle cx="1026.2" cy="272.4" r="2.1" fill="#fff" stroke="#222" stroke-width="1.1"/>
<circle cx="771.7" cy="329.6" r="2.1" fill="#fff" stroke="#222" stroke-width="1.1"/>
<circle cx="1094.3" cy="329.6" r="2.1" fill="#fff" stroke="#222" stroke-width="1.1"/>
<circle cx="839.9" cy="365.3" r="2.1" fill="#fff" stroke="#222" stroke-width="1.1"/>
<circle cx="932.8" cy="365.3" r="2.1" fill="#fff" stroke="#222" stroke-width="1.1"/>
<circle cx="1026.2" cy="365.3" r="2.1" fill="#fff" stroke="#222" stroke-width="1.1"/>
<circle cx="797.8" cy="407.3" r="2.1" fill="#fff" stroke="#222" stroke-width="1.1"/>
<circle cx="777.9" cy="427" r="2.1" fill="#fff" stroke="#222" stroke-width="1.1"/>
<circle cx="875.6" cy="433.2" r="2.1" fill="#fff" stroke="#222" stroke-width="1.1"/>
<line x1="810.00" y1="145.30" x2="894.80" y2="145.30" stroke="#2c2c2c" stroke-width="0.8" />
<line x1="899.00" y1="145.30" x2="904.00" y2="145.30" stroke="#2c2c2c" stroke-width="0.8" />
<line x1="908.40" y1="145.30" x2="1038.20" y2="145.30" stroke="#2c2c2c" stroke-width="0.8" />
<line x1="1042.30" y1="145.30" x2="1049.00" y2="145.30" stroke="#2c2c2c" stroke-width="0.8" />
<line x1="810.00" y1="399.40" x2="812.00" y2="399.40" stroke="#2c2c2c" stroke-width="0.8" />
<line x1="816.80" y1="399.40" x2="823.00" y2="399.40" stroke="#2c2c2c" stroke-width="0.8" />
<line x1="828.00" y1="399.40" x2="958.00" y2="399.40" stroke="#2c2c2c" stroke-width="0.8" />
<line x1="962.90" y1="399.40" x2="970.60" y2="399.40" stroke="#2c2c2c" stroke-width="0.8" />
<line x1="974.60" y1="399.40" x2="1056.00" y2="399.40" stroke="#2c2c2c" stroke-width="0.8" />
<line x1="805.80" y1="140.00" x2="805.80" y2="231.50" stroke="#2c2c2c" stroke-width="0.8" />
<line x1="805.80" y1="235.40" x2="805.80" y2="243.00" stroke="#2c2c2c" stroke-width="0.8" />
<line x1="805.80" y1="247.70" x2="805.80" y2="377.60" stroke="#2c2c2c" stroke-width="0.8" />
<line x1="805.80" y1="381.00" x2="805.80" y2="388.80" stroke="#2c2c2c" stroke-width="0.8" />
<line x1="1060.50" y1="140.00" x2="1060.50" y2="150.40" stroke="#2c2c2c" stroke-width="0.8" />
<line x1="1060.50" y1="155.20" x2="1060.50" y2="296.70" stroke="#2c2c2c" stroke-width="0.8" />
<line x1="1060.50" y1="301.80" x2="1060.50" y2="308.00" stroke="#2c2c2c" stroke-width="0.8" />
<line x1="1060.50" y1="311.90" x2="1060.50" y2="396.00" stroke="#2c2c2c" stroke-width="0.8" />
<circle cx="901.1" cy="240.5" r="2.1" fill="#111"/>
<circle cx="965" cy="240.3" r="2.1" fill="#111"/>
<circle cx="901.2" cy="304.2" r="2.1" fill="#111"/>
<circle cx="965.1" cy="304.2" r="2.1" fill="#111"/>
<polygon points="810.50,145.30 806.56,146.36 805.50,150.30 804.44,146.36 800.50,145.30 804.44,144.24 805.50,140.30 806.56,144.24" fill="#222"/>
<circle cx="805.5" cy="145.3" r="2.7" fill="#2a2a2a"/>
<polygon points="1065.40,145.30 1061.46,146.36 1060.40,150.30 1059.34,146.36 1055.40,145.30 1059.34,144.24 1060.40,140.30 1061.46,144.24" fill="#222"/>
<circle cx="1060.4" cy="145.3" r="2.7" fill="#2a2a2a"/>
<polygon points="810.40,399.30 806.46,400.36 805.40,404.30 804.34,400.36 800.40,399.30 804.34,398.24 805.40,394.30 806.46,398.24" fill="#222"/>
<circle cx="805.4" cy="399.3" r="2.7" fill="#2a2a2a"/>
<polygon points="1065.60,399.50 1061.66,400.56 1060.60,404.50 1059.54,400.56 1055.60,399.50 1059.54,398.44 1060.60,394.50 1061.66,398.44" fill="#222"/>
<circle cx="1060.6" cy="399.5" r="2.7" fill="#2a2a2a"/>
<rect x="964.6" y="404.3" width="141.0" height="39.3" fill="#fff" stroke="#555" stroke-width="0.9"/>
<text x="0" y="0" font-size="11.5" text-anchor="middle" fill="#2a2a2a" stroke="#2a2a2a" stroke-width="0.15" transform="translate(312.5,61.9) scale(1.14,1)">560</text>
<text x="0" y="0" font-size="11.5" text-anchor="middle" fill="#2a2a2a" stroke="#2a2a2a" stroke-width="0.15" transform="translate(612.4,44.6) scale(1.12,1)">90</text>
<text x="0" y="0" font-size="11.5" text-anchor="middle" fill="#2a2a2a" stroke="#2a2a2a" stroke-width="0.15" transform="translate(618.7,61.1) scale(1.04,1)">68</text>
<text x="0" y="0" font-size="11.5" text-anchor="middle" fill="#2a2a2a" stroke="#2a2a2a" stroke-width="0.15" transform="translate(554.6,61.1) scale(1.02,1)">22</text>
<text x="541.4" y="60.4" font-size="13.5" text-anchor="start" fill="#2a2a2a" transform="translate(541.4,60.4) scale(0.85,1) translate(-541.4,-60.4)">(</text>
<text x="564.6" y="60.4" font-size="13.5" text-anchor="start" fill="#2a2a2a" transform="translate(564.6,60.4) scale(0.85,1) translate(-564.6,-60.4)">)</text>
<text x="0" y="0" font-size="12.3" text-anchor="middle" fill="#2a2a2a" stroke="#2a2a2a" stroke-width="0.15" transform="translate(669.0,272.4) rotate(-90) scale(1.08,1)">280</text>
<text x="0" y="0" font-size="11.5" text-anchor="middle" fill="#2a2a2a" stroke="#2a2a2a" stroke-width="0.15" transform="translate(932.75,44.8) scale(1.16,1)">400</text>
<text x="0" y="0" font-size="11.5" text-anchor="middle" fill="#2a2a2a" stroke="#2a2a2a" stroke-width="0.15" transform="translate(932.55,58.9) scale(1.07,1)">100</text>
<text x="699.7" y="28.9" font-size="11.5" text-anchor="start" fill="#2a2a2a" stroke="#2a2a2a" stroke-width="0.12">4xM6x1.0</text>
<text x="699.7" y="43.1" font-size="11.5" text-anchor="start" fill="#2a2a2a" letter-spacing="-0.3" stroke="#2a2a2a" stroke-width="0.12">DEPTH 13max.</text>
<text x="1100.8" y="28.9" font-size="11.5" text-anchor="start" fill="#2a2a2a" stroke="#2a2a2a" stroke-width="0.12">4xM4x0.75</text>
<text x="1100.8" y="43.1" font-size="11.5" text-anchor="start" fill="#2a2a2a" letter-spacing="-0.1" stroke="#2a2a2a" stroke-width="0.12">DEPTH 10max.</text>
<text x="1063.5" y="492.9" font-size="12.2" text-anchor="start" fill="#2a2a2a" stroke="#2a2a2a" stroke-width="0.12">Unit: mm</text>
<line x1="134.00" y1="62.00" x2="134.00" y2="95.00" stroke="#2c2c2c" stroke-width="0.9" />
<line x1="490.70" y1="62.00" x2="490.70" y2="95.00" stroke="#2c2c2c" stroke-width="0.9" />
<line x1="134.00" y1="65.00" x2="490.70" y2="65.00" stroke="#2c2c2c" stroke-width="0.9" />
<polyline points="145.50,61.80 134.00,65.00 145.50,68.20" fill="none" stroke="#2c2c2c" stroke-width="0.9"/>
<polyline points="479.20,68.20 490.70,65.00 479.20,61.80" fill="none" stroke="#2c2c2c" stroke-width="0.9"/>
<line x1="583.20" y1="43.00" x2="583.20" y2="126.00" stroke="#2c2c2c" stroke-width="0.9" />
<line x1="640.80" y1="43.00" x2="640.80" y2="184.00" stroke="#2c2c2c" stroke-width="0.9" />
<line x1="596.80" y1="60.00" x2="596.80" y2="99.00" stroke="#2c2c2c" stroke-width="0.9" />
<line x1="583.20" y1="46.50" x2="640.80" y2="46.50" stroke="#2c2c2c" stroke-width="0.9" />
<polyline points="594.70,43.30 583.20,46.50 594.70,49.70" fill="none" stroke="#2c2c2c" stroke-width="0.9"/>
<polyline points="629.30,49.70 640.80,46.50 629.30,43.30" fill="none" stroke="#2c2c2c" stroke-width="0.9"/>
<line x1="596.80" y1="63.10" x2="640.80" y2="63.10" stroke="#2c2c2c" stroke-width="0.9" />
<polyline points="608.30,59.90 596.80,63.10 608.30,66.30" fill="none" stroke="#2c2c2c" stroke-width="0.9"/>
<polyline points="629.30,66.30 640.80,63.10 629.30,59.90" fill="none" stroke="#2c2c2c" stroke-width="0.9"/>
<line x1="542.40" y1="63.10" x2="583.20" y2="63.10" stroke="#2c2c2c" stroke-width="0.9" />
<polyline points="571.70,66.30 583.20,63.10 571.70,59.90" fill="none" stroke="#2c2c2c" stroke-width="0.9"/>
<line x1="598.00" y1="183.50" x2="675.30" y2="183.50" stroke="#2c2c2c" stroke-width="0.9" />
<line x1="598.00" y1="360.90" x2="675.30" y2="360.90" stroke="#2c2c2c" stroke-width="0.9" />
<line x1="671.60" y1="183.50" x2="671.60" y2="360.90" stroke="#2c2c2c" stroke-width="0.9" />
<polyline points="674.80,195.00 671.60,183.50 668.40,195.00" fill="none" stroke="#2c2c2c" stroke-width="0.9"/>
<polyline points="668.40,349.40 671.60,360.90 674.80,349.40" fill="none" stroke="#2c2c2c" stroke-width="0.9"/>
<line x1="805.80" y1="44.00" x2="805.80" y2="140.00" stroke="#2c2c2c" stroke-width="0.9" />
<line x1="1060.50" y1="44.00" x2="1060.50" y2="140.00" stroke="#2c2c2c" stroke-width="0.9" />
<line x1="805.80" y1="47.40" x2="1060.50" y2="47.40" stroke="#2c2c2c" stroke-width="0.9" />
<polyline points="817.30,44.20 805.80,47.40 817.30,50.60" fill="none" stroke="#2c2c2c" stroke-width="0.9"/>
<polyline points="1049.00,50.60 1060.50,47.40 1049.00,44.20" fill="none" stroke="#2c2c2c" stroke-width="0.9"/>
<line x1="901.30" y1="57.00" x2="901.30" y2="199.00" stroke="#2c2c2c" stroke-width="0.9" />
<line x1="964.80" y1="57.00" x2="964.80" y2="199.00" stroke="#2c2c2c" stroke-width="0.9" />
<line x1="901.30" y1="61.90" x2="964.80" y2="61.90" stroke="#2c2c2c" stroke-width="0.9" />
<polyline points="912.80,58.70 901.30,61.90 912.80,65.10" fill="none" stroke="#2c2c2c" stroke-width="0.9"/>
<polyline points="953.30,65.10 964.80,61.90 953.30,58.70" fill="none" stroke="#2c2c2c" stroke-width="0.9"/>
<line x1="699.70" y1="49.90" x2="781.40" y2="49.90" stroke="#2c2c2c" stroke-width="0.9" />
<line x1="781.40" y1="49.90" x2="805.30" y2="144.00" stroke="#2c2c2c" stroke-width="0.9" />
<polyline points="800.14,135.49 805.30,144.50 805.57,134.12" fill="none" stroke="#2c2c2c" stroke-width="0.9"/>
<line x1="1087.50" y1="49.90" x2="1180.00" y2="49.90" stroke="#2c2c2c" stroke-width="0.9" />
<line x1="1087.50" y1="49.90" x2="966.00" y2="239.00" stroke="#2c2c2c" stroke-width="0.9" />
<line x1="1001.6" y1="185.4" x2="968.5" y2="237.0" stroke="#fff" stroke-width="1.3"/>
<line x1="1001.6" y1="185.4" x2="968.5" y2="237.0" stroke="#444" stroke-width="0.55" stroke-dasharray="2.5 1.5"/>
<polyline points="968.56,229.58 965.50,239.50 973.27,232.61" fill="none" stroke="#2c2c2c" stroke-width="0.9"/>
</svg></body></html>
